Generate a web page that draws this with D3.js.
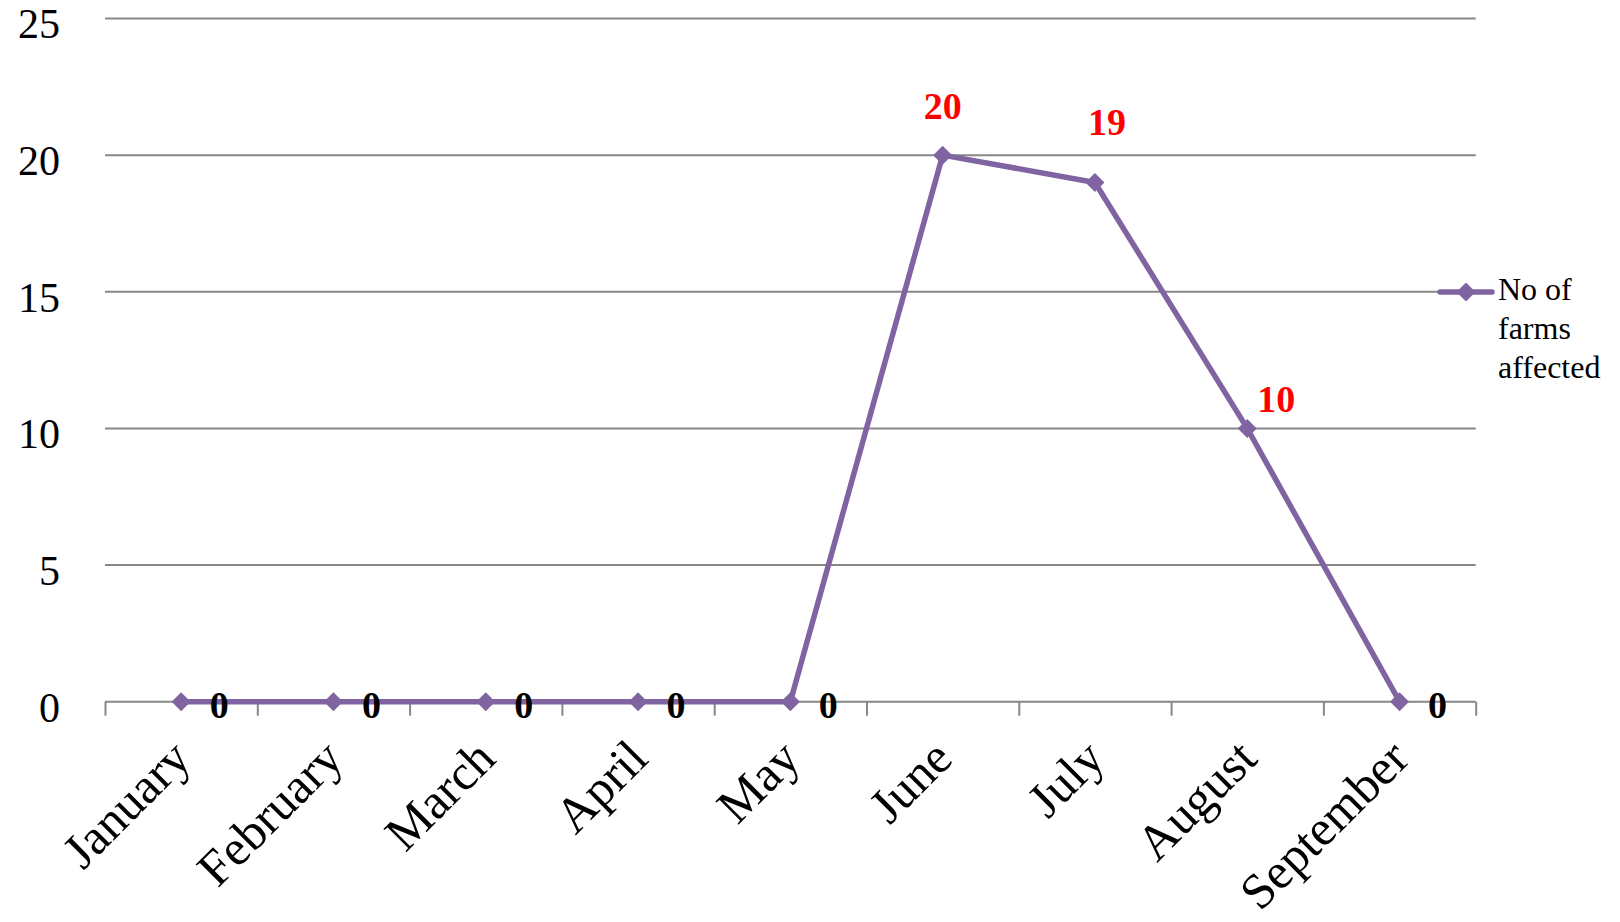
<!DOCTYPE html>
<html><head><meta charset="utf-8">
<script src="https://cdn.jsdelivr.net/npm/d3@7"></script>
<style>
html,body{margin:0;padding:0;background:#fff;}
svg{display:block;}
text{font-family:"Liberation Serif","DejaVu Serif",serif;}
</style></head>
<body>
<svg id="chart" width="1620" height="922"></svg>
<script>
const categories = ["January","February","March","April","May","June","July","August","September"];
const values = [0,0,0,0,0,20,19,10,0];
const yTicks = [0,5,10,15,20,25];
const seriesName = ["No of","farms","affected"];
// label placement offsets per point [dx, dy] (relative to the point)
const labelOffsets = [[38,16],[38,16],[38,16],[38,16],[38,16],[0,-36],[12,-47],[29,-16],[38,16]];

const svg = d3.select("#chart");
const plotLeft = 105, plotRight = 1475.7, plotTop = 18.5, plotBottom = 701.7;
const purple = "#8064A2", grid = "#878787";

const xEdge = d3.scaleLinear().domain([0, categories.length]).range([plotLeft, plotRight]);
const x = i => xEdge(i + 0.5);
const y = d3.scaleLinear().domain([0, 25]).range([plotBottom, plotTop]);

// gridlines
svg.append("g").selectAll("line").data(yTicks.filter(d => d > 0)).join("line")
  .attr("x1", plotLeft).attr("x2", plotRight)
  .attr("y1", d => y(d)).attr("y2", d => y(d))
  .attr("stroke", grid).attr("stroke-width", 2);

// x axis with ticks between categories
const xAxis = d3.axisBottom(xEdge).tickValues(d3.range(categories.length + 1)).tickSize(14).tickFormat("");
const gx = svg.append("g").attr("transform", `translate(0,${plotBottom})`).call(xAxis);
gx.select(".domain").attr("stroke", grid).attr("stroke-width", 2).attr("d", `M${plotLeft},0H${plotRight}`);
gx.selectAll(".tick line").attr("stroke", grid).attr("stroke-width", 2);

// y labels
const yAxis = d3.axisLeft(y).tickValues(yTicks).tickSize(0).tickPadding(0);
const gy = svg.append("g").attr("transform", `translate(60,0)`).call(yAxis);
gy.select(".domain").remove();
gy.selectAll(".tick text").attr("font-size", 42).attr("fill", "#000")
  .attr("font-family", '"Liberation Serif",serif').attr("dy", "0.46em");

// category labels
svg.append("g").selectAll("text").data(categories).join("text")
  .attr("transform", (d, i) => `translate(${x(i) + 12},${761}) rotate(-45)`)
  .attr("text-anchor", "end").attr("font-size", 50).attr("fill", "#000")
  .text(d => d);

// line
const line = d3.line().x((d, i) => x(i)).y(d => y(d));
svg.append("path").datum(values).attr("d", line)
  .attr("fill", "none").attr("stroke", purple).attr("stroke-width", 5.5).attr("stroke-linejoin", "round");

// markers
const diamond = d3.symbol().type(d3.symbolDiamond2).size(230);
svg.append("g").selectAll("path").data(values).join("path")
  .attr("transform", (d, i) => `translate(${x(i)},${y(d)})`)
  .attr("d", diamond).attr("fill", purple);

// data labels
svg.append("g").selectAll("text").data(values).join("text")
  .attr("x", (d, i) => x(i) + labelOffsets[i][0])
  .attr("y", (d, i) => y(d) + labelOffsets[i][1])
  .attr("text-anchor", "middle").attr("font-weight", "bold").attr("font-size", 38)
  .attr("fill", d => d > 0 ? "#ff0000" : "#000")
  .text(d => d);

// legend
const lg = svg.append("g");
lg.append("line").attr("x1", 1440).attr("x2", 1492).attr("y1", 292).attr("y2", 292)
  .attr("stroke", purple).attr("stroke-width", 5.5).attr("stroke-linecap", "round");
lg.append("path").attr("transform", "translate(1466,292)").attr("d", diamond).attr("fill", purple);
lg.selectAll("text").data(seriesName).join("text")
  .attr("x", 1498).attr("y", (d, i) => 300 + i * 39)
  .attr("font-size", 32).attr("fill", "#000").text(d => d);
</script>
</body></html>
